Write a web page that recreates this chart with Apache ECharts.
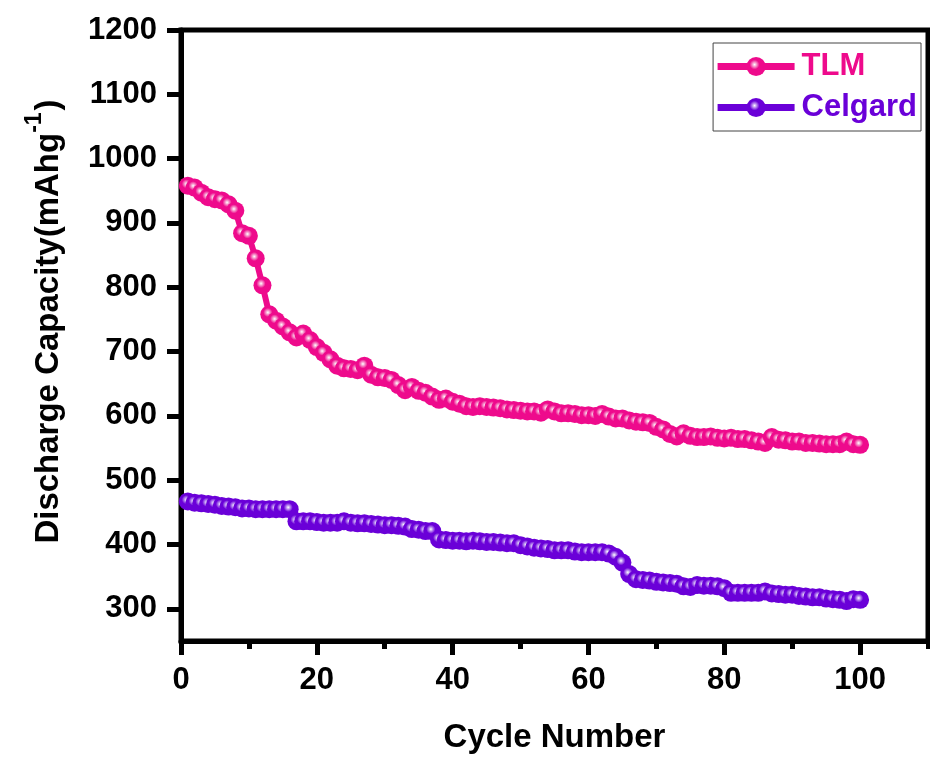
<!DOCTYPE html>
<html>
<head>
<meta charset="utf-8">
<script src="https://cdn.jsdelivr.net/npm/echarts@6/dist/echarts.min.js"></script>
<style>
  html, body { margin: 0; padding: 0; background: #fff; }
  #chart { width: 930px; height: 761px; }
</style>
</head>
<body>
<div id="chart"></div>
<script>
// cycle numbers
const cycles = [1, 2, 3, 4, 5, 6, 7, 8, 9, 10, 11, 12, 13, 14, 15, 16, 17, 18, 19, 20,
  21, 22, 23, 24, 25, 26, 27, 28, 29, 30, 31, 32, 33, 34, 35, 36, 37, 38, 39, 40,
  41, 42, 43, 44, 45, 46, 47, 48, 49, 50, 51, 52, 53, 54, 55, 56, 57, 58, 59, 60,
  61, 62, 63, 64, 65, 66, 67, 68, 69, 70, 71, 72, 73, 74, 75, 76, 77, 78, 79, 80,
  81, 82, 83, 84, 85, 86, 87, 88, 89, 90, 91, 92, 93, 94, 95, 96, 97, 98, 99, 100]

const tlmData = [958, 955, 947, 940, 937, 935, 929, 919, 884, 880,
  845, 803, 758, 748, 739, 730, 722, 728, 718, 707,
  698, 688, 678, 674, 673, 671, 678, 664, 660, 659,
  656, 648, 640, 645, 639, 636, 630, 625, 627, 622,
  619, 615, 614, 615, 614, 613, 612, 610, 609, 608,
  607, 607, 605, 610, 607, 604, 604, 603, 601, 601,
  600, 603, 599, 596, 596, 593, 591, 590, 589, 583,
  579, 572, 568, 573, 569, 567, 567, 568, 566, 565,
  566, 564, 564, 562, 560, 558, 567, 563, 562, 560,
  560, 558, 558, 557, 556, 556, 556, 560, 556, 555]

const celgardData = [467, 465, 464, 463, 462, 460, 459, 458, 456, 456,
  455, 455, 455, 455, 455, 455, 436, 436, 436, 435,
  434, 434, 434, 436, 434, 433, 433, 432, 431, 430,
  430, 429, 428, 424, 423, 421, 421, 408, 407, 406,
  406, 405, 406, 405, 404, 404, 403, 402, 402, 399,
  397, 395, 394, 393, 391, 391, 391, 389, 388, 388,
  388, 388, 386, 381, 372, 354, 346, 345, 344, 342,
  341, 340, 339, 335, 334, 337, 336, 336, 335, 332,
  325, 325, 325, 325, 325, 327, 324, 323, 322, 322,
  320, 319, 318, 318, 316, 315, 314, 312, 315, 314]

const xMajorTicks = [0, 20, 40, 60, 80, 100]
const xMinorTicks = [10, 30, 50, 70, 90, 110]
const yTicks = [300, 400, 500, 600, 700, 800, 900, 1000, 1100, 1200]

const pink = '#EE0A8C'
const purple = '#6A00D8'
const font = '"Liberation Sans", Arial, sans-serif'

function ball(color, light) {
  return {
    type: 'radial',
    x: 0.42,
    y: 0.4,
    r: 0.6,
    colorStops: [
      { offset: 0, color: '#ffffff' },
      { offset: 0.15, color: light },
      { offset: 0.42, color: color },
      { offset: 1, color: color }
    ]
  }
}

function pairs(ys) {
  return ys.map((v, i) => [cycles[i], v])
}

const chart = echarts.init(document.getElementById('chart'))
const option = {
  animation: false,
  backgroundColor: '#fff',
  textStyle: { fontFamily: font },
  grid: {
    left: 181,
    right: 2,
    top: 30,
    bottom: 120,
    show: true,
    borderColor: '#000',
    borderWidth: 5
  },
  legend: {
    orient: 'vertical',
    right: 9,
    top: 43,
    padding: [8, 4, 8, 1],
    borderColor: '#444',
    borderWidth: 1,
    itemWidth: 77,
    itemHeight: 24,
    itemGap: 10,
    lineStyle: { width: 7 },
    textStyle: {
      fontSize: 31,
      fontWeight: 'bold',
      fontFamily: font,
      padding: [0, 0, 0, 2]
    },
    data: [
      { name: 'TLM', textStyle: { color: pink } },
      { name: 'Celgard', textStyle: { color: purple } }
    ]
  },
  xAxis: [
    {
      type: 'value',
      min: 0,
      max: 110,
      name: 'Cycle Number',
      nameLocation: 'middle',
      nameGap: 80,
      nameTextStyle: { fontSize: 33, fontWeight: 'bold', color: '#000', fontFamily: font },
      axisLine: { lineStyle: { color: '#000', width: 5 } },
      axisTick: {
        inside: false,
        length: 14,
        lineStyle: { width: 5, color: '#000' },
        customValues: xMajorTicks
      },
      axisLabel: {
        margin: 24,
        fontSize: 31,
        fontWeight: 'bold',
        color: '#000',
        fontFamily: font,
        customValues: xMajorTicks
      },
      splitLine: { show: false }
    },
    {
      type: 'value',
      min: 0,
      max: 110,
      position: 'bottom',
      axisLine: { show: false },
      axisTick: {
        length: 8,
        lineStyle: { width: 5, color: '#000' },
        customValues: xMinorTicks
      },
      axisLabel: { show: false },
      splitLine: { show: false }
    }
  ],
  yAxis: {
    type: 'value',
    min: 250,
    max: 1200,
    name: '{a|Discharge Capacity(mAhg}{s|-1}{t|)}',
    nameLocation: 'middle',
    nameGap: 116,
    nameTextStyle: {
      color: '#000',
      rich: {
        a: { fontSize: 33, fontWeight: 'bold', fontFamily: font, color: '#000', verticalAlign: 'bottom', lineHeight: 42, padding: [0, 0, 0, 28] },
        t: { fontSize: 33, fontWeight: 'bold', fontFamily: font, color: '#000', verticalAlign: 'bottom', lineHeight: 42 },
        s: { fontSize: 23, fontWeight: 'bold', fontFamily: font, color: '#000', verticalAlign: 'top', lineHeight: 42, padding: [0, 2, 14, 0] }
      }
    },
    axisLine: { show: true, lineStyle: { color: '#000', width: 5 } },
    axisTick: {
      length: 14,
      lineStyle: { width: 5, color: '#000' },
      customValues: yTicks
    },
    axisLabel: {
      margin: 24,
      fontSize: 31,
      fontWeight: 'bold',
      color: '#000',
      fontFamily: font,
      customValues: yTicks,
      formatter: function(v) {
        return String(v)
      }
    },
    splitLine: { show: false }
  },
  series: [
    {
      name: 'TLM',
      type: 'line',
      data: pairs(tlmData),
      symbol: 'circle',
      symbolSize: 18,
      lineStyle: { color: pink, width: 6 },
      itemStyle: { color: ball(pink, '#F7A8D3') }
    },
    {
      name: 'Celgard',
      type: 'line',
      data: pairs(celgardData),
      symbol: 'circle',
      symbolSize: 18,
      lineStyle: { color: purple, width: 6 },
      itemStyle: { color: ball(purple, '#C4A0F2') }
    }
  ]
}
chart.setOption(option)
window.onresize = function() {
  chart.resize()
}
</script>
</body>
</html>
